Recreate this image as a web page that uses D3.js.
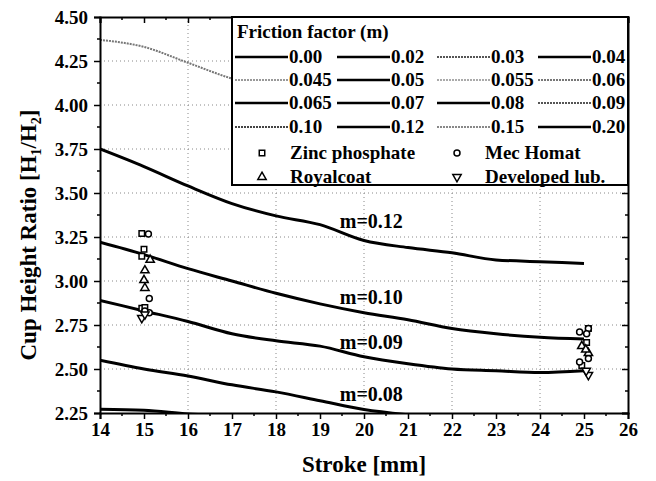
<!DOCTYPE html>
<html>
<head>
<meta charset="utf-8">
<script src="https://cdn.jsdelivr.net/npm/d3@7"></script>
<style>
  body{margin:0;background:#fff;}
  svg text{font-family:"Liberation Serif","Times New Roman",serif;font-weight:bold;fill:#000;}
</style>
</head>
<body>
<div id="chart"></div>
<script>
// stroke positions of the model curves
const strokes = [14,15,16,17,18,19,20,21,22,23,24,25];

// model curves (cup height ratio)
const m012 = [3.75,3.65,3.54,3.44,3.37,3.32,3.23,3.19,3.16,3.12,3.11,3.10];
const m010 = [3.22,3.15,3.07,3.00,2.93,2.87,2.82,2.78,2.73,2.70,2.68,2.67];
const m009 = [2.89,2.83,2.77,2.70,2.66,2.63,2.57,2.53,2.50,2.49,2.48,2.49];
const m008 = [2.55,2.50,2.46,2.41,2.37,2.32,2.27,2.24,2.22,2.21,2.20,2.20];
const m007 = [2.272,2.266,2.245,2.232,2.22,2.21,2.20,2.19,2.18,2.175,2.17,2.165];
const m015x = [14,15,16,17,18];
const m015 = [4.37,4.33,4.24,4.15,4.09];

// experiments
const zincX = [14.95,15.0,14.95,14.95,15.02,25.06,25.1,24.95];
const zincY = [3.27,3.18,3.14,2.845,2.85,2.65,2.73,2.52];
const mecX = [15.1,15.12,15.12,15.02,24.9,25.1,25.06,24.9,25.1];
const mecY = [3.267,2.90,2.82,2.83,2.71,2.73,2.70,2.54,2.56];
const royalX = [15.14,15.02,15.0,15.02,24.95,25.1,25.04];
const royalY = [3.12,3.06,3.005,2.96,2.63,2.59,2.61];
const devX = [14.95,15.02,25.1,25.05];
const devY = [2.79,2.81,2.466,2.49];

// legend
const legendM = ['0.00','0.02','0.03','0.04','0.045','0.05','0.055','0.06','0.065','0.07','0.08','0.09','0.10','0.12','0.15','0.20'];
const legendGray = {'0.03':'#555','0.045':'#999','0.055':'#aaa','0.06':'#777','0.09':'#555','0.10':'#444','0.15':'#888'};

const yTicks = [2.25,2.50,2.75,3.00,3.25,3.50,3.75,4.00,4.25,4.50];
const xTicks = [14,15,16,17,18,19,20,21,22,23,24,25,26];
const xGrid = [16,18,20,22,24];

const W = 656, H = 481;
const margin = {top:17, right:28, bottom:68, left:100};
const iw = W - margin.left - margin.right;
const ih = H - margin.top - margin.bottom;

const svg = d3.select('#chart').append('svg').attr('width',W).attr('height',H);
const plot = svg.append('g').attr('transform','translate('+margin.left+','+margin.top+')');

const x = d3.scaleLinear().domain([14,26]).range([0,iw]);
const y = d3.scaleLinear().domain([2.25,4.5]).range([ih,0]);

// grid
plot.append('g').selectAll('line').data(yTicks.slice(1,-1)).enter().append('line')
  .attr('x1',0).attr('x2',iw).attr('y1',d=>y(d)).attr('y2',d=>y(d))
  .attr('stroke','#888').attr('stroke-width',1).attr('stroke-dasharray','1,3');
plot.append('g').selectAll('line').data(xGrid).enter().append('line')
  .attr('y1',0).attr('y2',ih).attr('x1',d=>x(d)).attr('x2',d=>x(d))
  .attr('stroke','#888').attr('stroke-width',1).attr('stroke-dasharray','1,3');

// curves
svg.append('defs').append('clipPath').attr('id','clip')
  .append('rect').attr('width',iw).attr('height',ih);
const line = d3.line().x(d=>x(d[0])).y(d=>y(d[1])).curve(d3.curveMonotoneX);
const curves = plot.append('g').attr('clip-path','url(#clip)');
[m012,m010,m009,m008,m007].forEach(vals => {
  curves.append('path').datum(strokes.map((s,i)=>[s,vals[i]]))
    .attr('d',line).attr('fill','none').attr('stroke','#000').attr('stroke-width',3);
});
curves.append('path').datum(m015x.map((s,i)=>[s,m015[i]]))
  .attr('d',line).attr('fill','none').attr('stroke','#777').attr('stroke-width',2)
  .attr('stroke-dasharray','2,1');

// curve labels
const labels = [['m=0.12',3.30],['m=0.10',2.87],['m=0.09',2.615],['m=0.08',2.32]];
plot.selectAll('.clab').data(labels).enter().append('text').attr('class','clab')
  .attr('x',x(19.45)).attr('y',d=>y(d[1])).attr('font-size','20px').text(d=>d[0]);

// experimental markers
const sq = d3.symbol().type(d3.symbolSquare).size(30);
const ci = d3.symbol().type(d3.symbolCircle).size(28);
const tri = d3.symbol().type(d3.symbolTriangle).size(30);
function markers(xs, ys, sym, rot){
  plot.append('g').selectAll('path').data(xs).enter().append('path')
    .attr('d',sym)
    .attr('transform',(d,i)=>'translate('+x(d)+','+y(ys[i])+')'+(rot?' rotate(180)':''))
    .attr('fill','#fff').attr('stroke','#000').attr('stroke-width',1.5);
}
markers(zincX,zincY,sq(),false);
markers(mecX,mecY,ci(),false);
markers(royalX,royalY,tri(),false);
markers(devX,devY,tri(),true);

// axes
const axB = d3.axisBottom(x).tickValues(xTicks).tickSize(6).tickPadding(4).tickFormat(d3.format('d'));
const axL = d3.axisLeft(y).tickValues(yTicks).tickSize(6).tickPadding(6).tickFormat(d3.format('.2f'));
const axT = d3.axisBottom(x).tickValues(xTicks).tickSize(6).tickFormat('');
const axR = d3.axisLeft(y).tickValues(yTicks).tickSize(6).tickFormat('');

function styleAxis(g){
  g.select('.domain').attr('stroke','#000').attr('stroke-width',2);
  g.selectAll('.tick line').attr('stroke','#000').attr('stroke-width',1.5);
  g.selectAll('.tick text').attr('font-size','19px').attr('font-family','"Liberation Serif",serif').attr('font-weight','bold');
}
const gb = plot.append('g').attr('transform','translate(0,'+ih+')').call(axB).call(styleAxis);
const gl = plot.append('g').call(axL).call(styleAxis);

// minor ticks
const xMinor = xTicks.slice(0,-1).map(d=>d+0.5);
const yMinor = yTicks.slice(0,-1).map(d=>d+0.125);
gb.selectAll('.minor').data(xMinor).enter().append('line').attr('class','minor')
  .attr('x1',d=>x(d)).attr('x2',d=>x(d)).attr('y1',0).attr('y2',3).attr('stroke','#000').attr('stroke-width',1.5);
gl.selectAll('.minor').data(yMinor).enter().append('line').attr('class','minor')
  .attr('y1',d=>y(d)).attr('y2',d=>y(d)).attr('x1',0).attr('x2',-3).attr('stroke','#000').attr('stroke-width',1.5);

// legend box
const lg = svg.append('g').attr('transform','translate(232,17)');
lg.append('rect').attr('width',396).attr('height',168).attr('fill','#fff')
  .attr('stroke','#000').attr('stroke-width',2);
lg.append('text').attr('x',5).attr('y',21).attr('font-size','19px').text('Friction factor (m)');
const colX = [3,105,205,306];
const rowY = [40,63,86,110];
legendM.forEach((m,i) => {
  const cx = colX[i%4], cy = rowY[Math.floor(i/4)];
  const gray = legendGray[m];
  lg.append('line').attr('x1',cx).attr('x2',cx+53).attr('y1',cy).attr('y2',cy)
    .attr('stroke',gray||'#000').attr('stroke-width',gray?2:2.5)
    .attr('stroke-dasharray',gray?'2,1':null);
  lg.append('text').attr('x',cx+54).attr('y',cy+6).attr('font-size','19px').text(m);
});
const symItems = [
  [sq(),false,30,136,'Zinc phosphate'],
  [ci(),false,225,136,'Mec Homat'],
  [tri(),false,30,160,'Royalcoat'],
  [tri(),true,225,160,'Developed lub.']
];
symItems.forEach(s => {
  lg.append('path').attr('d',s[0])
    .attr('transform','translate('+s[2]+','+s[3]+')'+(s[1]?' rotate(180)':''))
    .attr('fill','#fff').attr('stroke','#000').attr('stroke-width',1.5);
  lg.append('text').attr('x',s[2]+28).attr('y',s[3]+6).attr('font-size','19px').text(s[4]);
});

// top and right axes on top of the legend
const gt = plot.append('g').call(axT).call(styleAxis);
const gr = plot.append('g').attr('transform','translate('+iw+',0)').call(axR).call(styleAxis);
gt.selectAll('.minor').data(xMinor).enter().append('line').attr('class','minor')
  .attr('x1',d=>x(d)).attr('x2',d=>x(d)).attr('y1',0).attr('y2',3).attr('stroke','#000').attr('stroke-width',1.5);
gr.selectAll('.minor').data(yMinor).enter().append('line').attr('class','minor')
  .attr('y1',d=>y(d)).attr('y2',d=>y(d)).attr('x1',0).attr('x2',-3).attr('stroke','#000').attr('stroke-width',1.5);

// axis titles
svg.append('text').attr('x',margin.left+iw/2).attr('y',472).attr('text-anchor','middle')
  .attr('font-size','23px').text('Stroke [mm]');
const yt = svg.append('text').attr('transform','translate(36,'+(margin.top+ih/2 + 20)+') rotate(-90)')
  .attr('text-anchor','middle').attr('font-size','23px');
yt.append('tspan').text('Cup Height Ratio [H');
yt.append('tspan').attr('font-size','14px').attr('dy',5).text('1');
yt.append('tspan').attr('dy',-5).text('/H');
yt.append('tspan').attr('font-size','14px').attr('dy',5).text('2');
yt.append('tspan').attr('dy',-5).text(']');
</script>
</body>
</html>
